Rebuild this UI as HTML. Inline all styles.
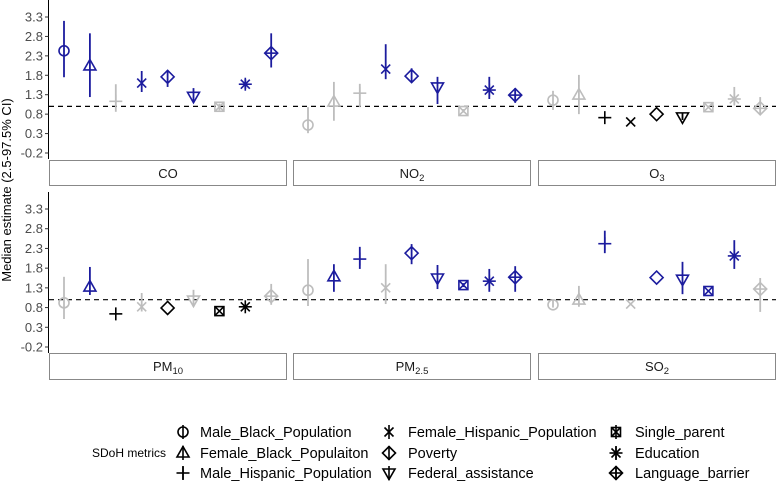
<!DOCTYPE html>
<html><head><meta charset="utf-8"><style>
body{margin:0;background:#fff}
svg{display:block;font-family:"Liberation Sans",Arial,sans-serif}
</style></head><body>
<svg id="chart" width="777" height="483" viewBox="0 0 777 483">
<g id="panels"></g>
<g id="legend"></g>
<text transform="translate(11,190) rotate(-90)" text-anchor="middle" font-size="13" fill="#000">Median estimate (2.5-97.5% CI)</text>
</svg>
<script>
const metrics = ["Male_Black_Population","Female_Black_Populaiton","Male_Hispanic_Population","Female_Hispanic_Population","Poverty","Federal_assistance","Single_parent","Education","Language_barrier"];
const shapes = ["circle","tri","plus","x","diamond","dtri","square","asterisk","diamondplus"];
const pollutants = ["CO","NO2","O3","PM10","PM2.5","SO2"];
const yTicks = [-0.2,0.3,0.8,1.3,1.8,2.3,2.8,3.3];
const medCO = [2.43,2.04,1.13,1.6,1.76,1.26,0.99,1.57,2.37];
const loCO  = [1.75,1.24,0.86,1.37,1.5,1.09,0.9,1.45,2.0];
const hiCO  = [3.2,2.88,1.57,1.91,1.93,1.47,1.07,1.7,2.88];
const sigCO = ["b","b","g","b","b","b","g","b","b"];
const medNO2 = [0.52,1.11,1.34,1.96,1.78,1.5,0.88,1.42,1.29];
const loNO2  = [0.31,0.63,0.98,1.7,1.62,1.06,0.84,1.19,1.09];
const hiNO2  = [0.98,1.63,1.58,2.6,1.98,1.76,0.93,1.76,1.47];
const sigNO2 = ["g","g","g","b","b","b","g","b","b"];
const medO3 = [1.16,1.29,0.71,0.6,0.8,0.73,0.98,1.19,0.95];
const loO3  = [0.91,0.8,0.71,0.6,0.8,0.65,0.95,1.04,0.82];
const hiO3  = [1.4,1.81,0.71,0.6,0.8,0.83,1.02,1.5,1.24];
const sigO3 = ["g","g","k","k","k","k","g","g","g"];
const medPM10 = [0.92,1.32,0.64,0.82,0.79,0.99,0.71,0.82,1.09];
const loPM10  = [0.51,1.12,0.64,0.7,0.79,0.82,0.71,0.82,0.87];
const hiPM10  = [1.58,1.83,0.64,1.17,0.79,1.25,0.71,0.82,1.4];
const sigPM10 = ["g","b","k","g","k","g","k","k","g"];
const medPM25 = [1.24,1.58,2.03,1.3,2.18,1.55,1.37,1.47,1.57];
const loPM25  = [0.84,1.2,1.78,0.89,1.9,1.27,1.32,1.2,1.2];
const hiPM25  = [2.03,1.9,2.34,1.9,2.41,1.88,1.42,1.78,1.85];
const sigPM25 = ["g","b","b","g","b","b","b","b","b"];
const medSO2 = [0.87,0.99,2.42,0.89,1.56,1.52,1.22,2.11,1.27];
const loSO2  = [0.8,0.82,2.18,0.89,1.56,1.14,1.22,1.78,0.69];
const hiSO2  = [1.0,1.35,2.75,0.89,1.56,1.96,1.22,2.51,1.55];
const sigSO2 = ["g","g","b","g","b","b","b","b","g"];

const MED=[medCO,medNO2,medO3,medPM10,medPM25,medSO2];
const LO=[loCO,loNO2,loO3,loPM10,loPM25,loSO2];
const HI=[hiCO,hiNO2,hiO3,hiPM10,hiPM25,hiSO2];
const SIG=[sigCO,sigNO2,sigO3,sigPM10,sigPM25,sigSO2];
const COL={b:"#1c1c9e",g:"#bdbdbd",k:"#000"};
const NS="http://www.w3.org/2000/svg";
const colX=[49,293,538], PW=238;
const rows=[{top:0,bot:159,y33:17,y02:153,sTop:160,sBot:186},{top:192,bot:353,y33:209,y02:347,sTop:353,sBot:380}];
function mk(tag,attrs,parent){const e=document.createElementNS(NS,tag);for(const k in attrs)e.setAttribute(k,attrs[k]);parent.appendChild(e);return e;}
function yScale(r,v){return r.y33+(3.3-v)*(r.y02-r.y33)/3.5;}
function xScale(c,i){return colX[c]+15+i*25.9;}
function shape(g,s,x,y,col){
  const a={fill:"none",stroke:col,"stroke-width":1.6};
  const L=(x1,y1,x2,y2)=>mk("line",Object.assign({x1:x+x1,y1:y+y1,x2:x+x2,y2:y+y2},a),g);
  const P=pts=>mk("polygon",Object.assign({points:pts.map(p=>(x+p[0])+","+(y+p[1])).join(" ")},a),g);
  if(s==="circle")mk("circle",Object.assign({cx:x,cy:y,r:5},a),g);
  else if(s==="tri")P([[0,-6.5],[6,4],[-6,4]]);
  else if(s==="dtri")P([[0,6.5],[6,-4],[-6,-4]]);
  else if(s==="plus"){L(-6.5,0,6.5,0);L(0,-6.5,0,6.5);}
  else if(s==="x"){L(-4.5,-4.5,4.5,4.5);L(-4.5,4.5,4.5,-4.5);}
  else if(s==="diamond")P([[0,-6.5],[6.5,0],[0,6.5],[-6.5,0]]);
  else if(s==="square"){mk("rect",Object.assign({x:x-4.5,y:y-4.5,width:9,height:9},a),g);L(-4.5,-4.5,4.5,4.5);L(-4.5,4.5,4.5,-4.5);}
  else if(s==="asterisk"){L(-4.5,-4.5,4.5,4.5);L(-4.5,4.5,4.5,-4.5);L(-6.5,0,6.5,0);L(0,-6.5,0,6.5);}
  else if(s==="diamondplus"){P([[0,-6.5],[6.5,0],[0,6.5],[-6.5,0]]);L(-6.5,0,6.5,0);L(0,-6.5,0,6.5);}
}
const panels=document.getElementById("panels");
const labels=[["CO",""],["NO","2"],["O","3"],["PM","10"],["PM","2.5"],["SO","2"]];
pollutants.forEach((p,pi)=>{
  const r=rows[Math.floor(pi/3)], c=pi%3;
  const g=mk("g",{},panels);
  
  
  const y1=yScale(r,1.0);
  const ref=mk("line",{x1:colX[c],x2:colX[c]+PW,y1:y1,y2:y1,stroke:"#000","stroke-width":1.2,"stroke-dasharray":"5,4"},g);
  
  
  for(let i=0;i<9;i++){
    const col=COL[SIG[pi][i]], x=xScale(c,i);
    const pt=mk("g",{},g);
    
    
    if(HI[pi][i]>LO[pi][i])mk("line",{x1:x,x2:x,y1:yScale(r,HI[pi][i]),y2:yScale(r,LO[pi][i]),stroke:col,"stroke-width":1.8},pt);
    shape(pt,shapes[i],x,yScale(r,MED[pi][i]),col);
  }
  const st=mk("g",{},g);
  
  
  mk("rect",{x:colX[c]+0.5,y:r.sTop+0.5,width:PW-1,height:r.sBot-r.sTop-1,fill:"#fff",stroke:"#888","stroke-width":1},st);
  const t=mk("text",{x:colX[c]+PW/2,y:r.sTop+18,"text-anchor":"middle","font-size":13,fill:"#1a1a1a"},st);
  t.textContent=labels[pi][0];
  if(labels[pi][1]){const s=mk("tspan",{"font-size":9.5,dy:3},t);s.textContent=labels[pi][1];}
});
rows.forEach((r,ri)=>{
  const ax=mk("g",{},panels);
  
  
  mk("line",{x1:48.5,x2:48.5,y1:r.top,y2:r.bot,stroke:"#000","stroke-width":1},ax);
  yTicks.forEach(v=>{
    const y=yScale(r,v);
    mk("line",{x1:45,x2:48.5,y1:y,y2:y,stroke:"#333","stroke-width":1},ax);
    const t=mk("text",{x:43,y:y+4.5,"text-anchor":"end","font-size":13,fill:"#4d4d4d"},ax);
    t.textContent=v.toFixed(1);
  });
});
const lg=document.getElementById("legend");
const lt=mk("text",{x:166,y:457,"font-size":12,"text-anchor":"end",fill:"#000"},lg);
lt.textContent="SDoH metrics";


const lcx=[183,389,616], ltx=[200,408,635], lry=[432,453,473];
metrics.forEach((m,i)=>{
  const c=Math.floor(i/3), rr=i%3;
  const e=mk("g",{},lg);
  
  
  mk("line",{x1:lcx[c],x2:lcx[c],y1:lry[rr]-7,y2:lry[rr]+7,stroke:"#000","stroke-width":1.6},e);
  shape(e,shapes[i],lcx[c],lry[rr],"#000");
  const t=mk("text",{x:ltx[c],y:lry[rr]+5,"font-size":14.5,fill:"#000"},e);
  t.textContent=m;
});
</script>
</body></html>
